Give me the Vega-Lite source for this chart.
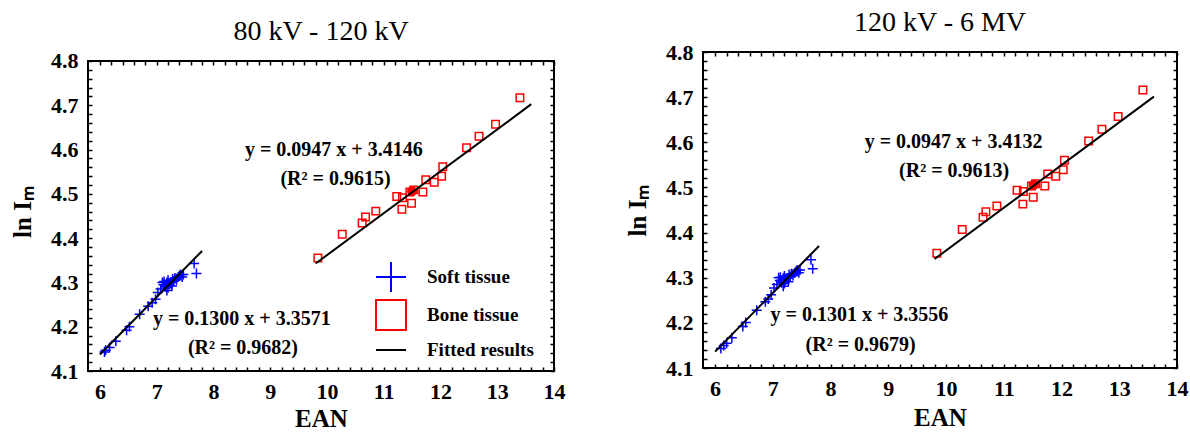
{
  "$schema": "https://vega.github.io/schema/vega-lite/v6.json",
  "padding": {"left": 10, "top": 8, "right": 0, "bottom": 0},
  "background": "white",
  "datasets": {
    "soft1": [
      {"EAN": 6.08, "lnIm": 4.143}, {"EAN": 6.10, "lnIm": 4.147}, {"EAN": 6.17, "lnIm": 4.153},
      {"EAN": 6.28, "lnIm": 4.167}, {"EAN": 6.47, "lnIm": 4.192}, {"EAN": 6.52, "lnIm": 4.200},
      {"EAN": 6.70, "lnIm": 4.228}, {"EAN": 6.85, "lnIm": 4.246}, {"EAN": 6.92, "lnIm": 4.254},
      {"EAN": 6.98, "lnIm": 4.262}, {"EAN": 7.02, "lnIm": 4.277}, {"EAN": 7.07, "lnIm": 4.285},
      {"EAN": 7.10, "lnIm": 4.300}, {"EAN": 7.12, "lnIm": 4.295}, {"EAN": 7.15, "lnIm": 4.290},
      {"EAN": 7.18, "lnIm": 4.282}, {"EAN": 7.18, "lnIm": 4.300}, {"EAN": 7.20, "lnIm": 4.305},
      {"EAN": 7.22, "lnIm": 4.296}, {"EAN": 7.25, "lnIm": 4.300}, {"EAN": 7.27, "lnIm": 4.292},
      {"EAN": 7.28, "lnIm": 4.308}, {"EAN": 7.30, "lnIm": 4.303}, {"EAN": 7.32, "lnIm": 4.310},
      {"EAN": 7.35, "lnIm": 4.306}, {"EAN": 7.38, "lnIm": 4.312}, {"EAN": 7.40, "lnIm": 4.315},
      {"EAN": 7.42, "lnIm": 4.318}, {"EAN": 7.45, "lnIm": 4.312}, {"EAN": 7.20, "lnIm": 4.288},
      {"EAN": 7.13, "lnIm": 4.302}, {"EAN": 7.47, "lnIm": 4.318}, {"EAN": 7.66, "lnIm": 4.343},
      {"EAN": 7.70, "lnIm": 4.320}
    ],
    "bone1": [
      {"EAN": 9.84, "lnIm": 4.355}, {"EAN": 10.27, "lnIm": 4.409}, {"EAN": 10.62, "lnIm": 4.434},
      {"EAN": 10.68, "lnIm": 4.448}, {"EAN": 10.86, "lnIm": 4.461}, {"EAN": 11.23, "lnIm": 4.494},
      {"EAN": 11.33, "lnIm": 4.491}, {"EAN": 11.32, "lnIm": 4.465}, {"EAN": 11.49, "lnIm": 4.479},
      {"EAN": 11.46, "lnIm": 4.504}, {"EAN": 11.53, "lnIm": 4.509}, {"EAN": 11.69, "lnIm": 4.504},
      {"EAN": 11.74, "lnIm": 4.532}, {"EAN": 11.89, "lnIm": 4.526}, {"EAN": 12.02, "lnIm": 4.540},
      {"EAN": 12.04, "lnIm": 4.561}, {"EAN": 12.46, "lnIm": 4.604}, {"EAN": 12.68, "lnIm": 4.630},
      {"EAN": 12.97, "lnIm": 4.657}, {"EAN": 13.40, "lnIm": 4.717}
    ],
    "mean1": [{"EAN": 11.50, "lnIm": 4.506}],
    "fit1": [
      {"EAN": 6.0, "lnIm": 4.1371, "group": "soft"}, {"EAN": 7.8, "lnIm": 4.3711, "group": "soft"},
      {"EAN": 9.8, "lnIm": 4.3427, "group": "bone"}, {"EAN": 13.6, "lnIm": 4.7025, "group": "bone"}
    ],
    "frame1": [{"x1": 5.79, "x2": 14, "y1": 4.1, "y2": 4.8}],
    "ann1": [
      {"EAN": 10.12, "lnIm": 4.598, "label": "y = 0.0947 x + 3.4146"},
      {"EAN": 10.15, "lnIm": 4.533, "label": "(R² = 0.9615)"},
      {"EAN": 8.50, "lnIm": 4.217, "label": "y = 0.1300 x + 3.3571"},
      {"EAN": 8.52, "lnIm": 4.151, "label": "(R² = 0.9682)"}
    ],
    "soft2": [
      {"EAN": 6.10, "lnIm": 4.143}, {"EAN": 6.15, "lnIm": 4.150}, {"EAN": 6.20, "lnIm": 4.155},
      {"EAN": 6.29, "lnIm": 4.167}, {"EAN": 6.48, "lnIm": 4.192}, {"EAN": 6.53, "lnIm": 4.201},
      {"EAN": 6.72, "lnIm": 4.228}, {"EAN": 6.87, "lnIm": 4.247}, {"EAN": 6.92, "lnIm": 4.253},
      {"EAN": 6.97, "lnIm": 4.262}, {"EAN": 7.02, "lnIm": 4.277}, {"EAN": 7.07, "lnIm": 4.285},
      {"EAN": 7.10, "lnIm": 4.300}, {"EAN": 7.12, "lnIm": 4.294}, {"EAN": 7.15, "lnIm": 4.289},
      {"EAN": 7.18, "lnIm": 4.281}, {"EAN": 7.18, "lnIm": 4.299}, {"EAN": 7.20, "lnIm": 4.304},
      {"EAN": 7.22, "lnIm": 4.295}, {"EAN": 7.25, "lnIm": 4.299}, {"EAN": 7.27, "lnIm": 4.291},
      {"EAN": 7.28, "lnIm": 4.307}, {"EAN": 7.30, "lnIm": 4.302}, {"EAN": 7.32, "lnIm": 4.309},
      {"EAN": 7.35, "lnIm": 4.305}, {"EAN": 7.38, "lnIm": 4.311}, {"EAN": 7.40, "lnIm": 4.314},
      {"EAN": 7.42, "lnIm": 4.317}, {"EAN": 7.45, "lnIm": 4.311}, {"EAN": 7.20, "lnIm": 4.287},
      {"EAN": 7.13, "lnIm": 4.301}, {"EAN": 7.47, "lnIm": 4.317}, {"EAN": 7.66, "lnIm": 4.340},
      {"EAN": 7.69, "lnIm": 4.320}
    ],
    "bone2": [
      {"EAN": 9.84, "lnIm": 4.354}, {"EAN": 10.28, "lnIm": 4.407}, {"EAN": 10.64, "lnIm": 4.434},
      {"EAN": 10.69, "lnIm": 4.446}, {"EAN": 10.88, "lnIm": 4.459}, {"EAN": 11.23, "lnIm": 4.494},
      {"EAN": 11.34, "lnIm": 4.491}, {"EAN": 11.33, "lnIm": 4.463}, {"EAN": 11.51, "lnIm": 4.478},
      {"EAN": 11.48, "lnIm": 4.503}, {"EAN": 11.55, "lnIm": 4.508}, {"EAN": 11.71, "lnIm": 4.503},
      {"EAN": 11.76, "lnIm": 4.530}, {"EAN": 11.90, "lnIm": 4.525}, {"EAN": 12.03, "lnIm": 4.539},
      {"EAN": 12.05, "lnIm": 4.560}, {"EAN": 12.47, "lnIm": 4.603}, {"EAN": 12.70, "lnIm": 4.629},
      {"EAN": 12.98, "lnIm": 4.657}, {"EAN": 13.41, "lnIm": 4.716}
    ],
    "mean2": [{"EAN": 11.52, "lnIm": 4.506}],
    "fit2": [
      {"EAN": 6.0, "lnIm": 4.1362, "group": "soft"}, {"EAN": 7.8, "lnIm": 4.3704, "group": "soft"},
      {"EAN": 9.8, "lnIm": 4.3413, "group": "bone"}, {"EAN": 13.6, "lnIm": 4.7011, "group": "bone"}
    ],
    "ann2": [
      {"EAN": 10.13, "lnIm": 4.600, "label": "y = 0.0947 x + 3.4132"},
      {"EAN": 10.14, "lnIm": 4.537, "label": "(R² = 0.9613)"},
      {"EAN": 8.50, "lnIm": 4.218, "label": "y = 0.1301 x + 3.3556"},
      {"EAN": 8.52, "lnIm": 4.152, "label": "(R² = 0.9679)"}
    ]
  },
  "hconcat": [
    {
      "width": 466,
      "height": 319,
      "view": {"stroke": null},
      "title": "80 kV - 120 kV",
      "resolve": {"axis": {"x": "independent", "y": "independent"}},
      "layer": [
        {
          "data": {"name": "soft1"},
          "transform": [{"calculate": "'Soft tissue'", "as": "type"}],
          "mark": {"type": "point", "filled": false, "strokeWidth": 1.5, "opacity": 1, "size": 100},
          "encoding": {
            "x": {"field": "EAN", "type": "quantitative", "scale": {"domain": [5.79, 14], "nice": false, "zero": false},
              "axis": {"orient": "bottom", "title": "EAN", "labelPadding": 14, "titlePadding": 4, "values": [6,6.2,6.4,6.6,6.8,7,7.2,7.4,7.6,7.8,8,8.2,8.4,8.6,8.8,9,9.2,9.4,9.6,9.8,10,10.2,10.4,10.6,10.8,11,11.2,11.4,11.6,11.8,12,12.2,12.4,12.6,12.8,13,13.2,13.4,13.6,13.8,14],
                "labelExpr": "abs(datum.value - round(datum.value)) < 1e-6 ? format(datum.value, 'd') : ''"}},
            "y": {"field": "lnIm", "type": "quantitative", "scale": {"domain": [4.1, 4.82032], "nice": false, "zero": false},
              "axis": {"orient": "left", "title": "ln Iₘ", "titlePadding": 15, "values": [4.1,4.12,4.14,4.16,4.18,4.2,4.22,4.24,4.26,4.28,4.3,4.32,4.34,4.36,4.38,4.4,4.42,4.44,4.46,4.48,4.5,4.52,4.54,4.56,4.58,4.6,4.62,4.64,4.66,4.68,4.7,4.72,4.74,4.76,4.78,4.8],
                "labelExpr": "abs(datum.value*10 - round(datum.value*10)) < 1e-6 ? format(datum.value, '.1f') : ''"}},
            "color": {"field": "type", "type": "nominal",
              "scale": {"domain": ["Soft tissue", "Bone tissue", "Fitted results"], "range": ["#0000ff", "#ff0000", "#000000"]},
              "legend": {"orient": "none", "legendX": 287, "legendY": 209, "title": null, "padding": 0, "rowPadding": 0,
                "labelFont": "Liberation Serif", "labelFontWeight": "bold", "labelFontSize": 19, "labelColor": "black",
                "labelOffset": 20, "symbolStrokeWidth": 2, "symbolSize": 900,
                "encode": {"symbols": {"size": {"signal": "datum.value === 'Fitted results' ? 1150 : (datum.value === 'Soft tissue' ? 81 : 49)"}}}}},
            "shape": {"field": "type", "type": "nominal",
              "scale": {"domain": ["Soft tissue", "Bone tissue", "Fitted results"], "range": ["M-1,0H1M0,-1V1", "square", "stroke"]},
              "legend": {"orient": "none", "legendX": 287, "legendY": 209, "title": null, "padding": 0, "rowPadding": 0,
                "labelFont": "Liberation Serif", "labelFontWeight": "bold", "labelFontSize": 19, "labelColor": "black",
                "labelOffset": 20, "symbolStrokeWidth": 2, "symbolSize": 900,
                "encode": {"symbols": {"size": {"signal": "datum.value === 'Fitted results' ? 1150 : (datum.value === 'Soft tissue' ? 81 : 49)"}}}}}
          }
        },
        {
          "data": {"name": "bone1"},
          "transform": [{"calculate": "'Bone tissue'", "as": "type"}],
          "mark": {"type": "point", "filled": false, "strokeWidth": 1.5, "opacity": 1, "size": 56},
          "encoding": {
            "x": {"field": "EAN", "type": "quantitative", "axis": null},
            "y": {"field": "lnIm", "type": "quantitative", "axis": null},
            "color": {"field": "type", "type": "nominal"},
            "shape": {"field": "type", "type": "nominal"}
          }
        },
        {
          "data": {"name": "mean1"},
          "mark": {"type": "circle", "color": "#ff0000", "size": 100, "opacity": 1},
          "encoding": {
            "x": {"field": "EAN", "type": "quantitative", "axis": null},
            "y": {"field": "lnIm", "type": "quantitative", "axis": null}
          }
        },
        {
          "data": {"name": "ann1"},
          "mark": {"type": "text", "font": "Liberation Serif", "fontWeight": "bold", "fontSize": 20, "color": "black", "align": "center", "baseline": "middle"},
          "encoding": {
            "x": {"field": "EAN", "type": "quantitative", "axis": null},
            "y": {"field": "lnIm", "type": "quantitative", "axis": null},
            "text": {"field": "label"}
          }
        },
        {
          "data": {"name": "frame1"},
          "mark": {"type": "rect", "fillOpacity": 0, "stroke": "black", "strokeWidth": 2},
          "encoding": {
            "x": {"field": "x1", "type": "quantitative", "axis": null},
            "x2": {"field": "x2"},
            "y": {"field": "y1", "type": "quantitative", "axis": null},
            "y2": {"field": "y2"}
          }
        },
        {
          "data": {"name": "fit1"},
          "transform": [{"calculate": "'Fitted results'", "as": "type"}],
          "mark": {"type": "line", "strokeWidth": 2},
          "encoding": {
            "x": {"field": "EAN", "type": "quantitative",
              "axis": {"orient": "top", "title": null, "labels": false, "offset": -9, "values": [6,6.2,6.4,6.6,6.8,7,7.2,7.4,7.6,7.8,8,8.2,8.4,8.6,8.8,9,9.2,9.4,9.6,9.8,10,10.2,10.4,10.6,10.8,11,11.2,11.4,11.6,11.8,12,12.2,12.4,12.6,12.8,13,13.2,13.4,13.6,13.8,14]}},
            "y": {"field": "lnIm", "type": "quantitative",
              "axis": {"orient": "right", "title": null, "labels": false, "values": [4.1,4.12,4.14,4.16,4.18,4.2,4.22,4.24,4.26,4.28,4.3,4.32,4.34,4.36,4.38,4.4,4.42,4.44,4.46,4.48,4.5,4.52,4.54,4.56,4.58,4.6,4.62,4.64,4.66,4.68,4.7,4.72,4.74,4.76,4.78,4.8]}},
            "color": {"field": "type", "type": "nominal"},
            "detail": {"field": "group"}
          }
        }
      ]
    },
    {
      "width": 474,
      "height": 316,
      "title": "120 kV - 6 MV",
      "resolve": {"axis": {"x": "independent", "y": "independent"}},
      "layer": [
        {
          "data": {"name": "soft2"},
          "mark": {"type": "point", "filled": false, "strokeWidth": 1.5, "opacity": 1, "color": "#0000ff", "shape": "M-1,0H1M0,-1V1", "size": 100},
          "encoding": {
            "x": {"field": "EAN", "type": "quantitative", "scale": {"domain": [5.79, 14], "nice": false, "zero": false},
              "axis": {"orient": "bottom", "title": "EAN", "labelPadding": 14, "titlePadding": 6, "values": [6,6.2,6.4,6.6,6.8,7,7.2,7.4,7.6,7.8,8,8.2,8.4,8.6,8.8,9,9.2,9.4,9.6,9.8,10,10.2,10.4,10.6,10.8,11,11.2,11.4,11.6,11.8,12,12.2,12.4,12.6,12.8,13,13.2,13.4,13.6,13.8,14],
                "labelExpr": "abs(datum.value - round(datum.value)) < 1e-6 ? format(datum.value, 'd') : ''"}},
            "y": {"field": "lnIm", "type": "quantitative", "scale": {"domain": [4.1, 4.8], "nice": false, "zero": false},
              "axis": {"orient": "left", "title": "ln Iₘ", "titlePadding": 15, "values": [4.1,4.12,4.14,4.16,4.18,4.2,4.22,4.24,4.26,4.28,4.3,4.32,4.34,4.36,4.38,4.4,4.42,4.44,4.46,4.48,4.5,4.52,4.54,4.56,4.58,4.6,4.62,4.64,4.66,4.68,4.7,4.72,4.74,4.76,4.78,4.8],
                "labelExpr": "abs(datum.value*10 - round(datum.value*10)) < 1e-6 ? format(datum.value, '.1f') : ''"}}
          }
        },
        {
          "data": {"name": "bone2"},
          "mark": {"type": "point", "filled": false, "strokeWidth": 1.5, "opacity": 1, "color": "#ff0000", "shape": "square", "size": 56},
          "encoding": {
            "x": {"field": "EAN", "type": "quantitative", "axis": null},
            "y": {"field": "lnIm", "type": "quantitative", "axis": null}
          }
        },
        {
          "data": {"name": "mean2"},
          "mark": {"type": "circle", "color": "#ff0000", "size": 100, "opacity": 1},
          "encoding": {
            "x": {"field": "EAN", "type": "quantitative", "axis": null},
            "y": {"field": "lnIm", "type": "quantitative", "axis": null}
          }
        },
        {
          "data": {"name": "ann2"},
          "mark": {"type": "text", "font": "Liberation Serif", "fontWeight": "bold", "fontSize": 20, "color": "black", "align": "center", "baseline": "middle"},
          "encoding": {
            "x": {"field": "EAN", "type": "quantitative", "axis": null},
            "y": {"field": "lnIm", "type": "quantitative", "axis": null},
            "text": {"field": "label"}
          }
        },
        {
          "data": {"name": "fit2"},
          "mark": {"type": "line", "strokeWidth": 2, "color": "black"},
          "encoding": {
            "x": {"field": "EAN", "type": "quantitative",
              "axis": {"orient": "top", "title": null, "labels": false, "values": [6,6.2,6.4,6.6,6.8,7,7.2,7.4,7.6,7.8,8,8.2,8.4,8.6,8.8,9,9.2,9.4,9.6,9.8,10,10.2,10.4,10.6,10.8,11,11.2,11.4,11.6,11.8,12,12.2,12.4,12.6,12.8,13,13.2,13.4,13.6,13.8,14]}},
            "y": {"field": "lnIm", "type": "quantitative",
              "axis": {"orient": "right", "title": null, "labels": false, "values": [4.1,4.12,4.14,4.16,4.18,4.2,4.22,4.24,4.26,4.28,4.3,4.32,4.34,4.36,4.38,4.4,4.42,4.44,4.46,4.48,4.5,4.52,4.54,4.56,4.58,4.6,4.62,4.64,4.66,4.68,4.7,4.72,4.74,4.76,4.78,4.8]}},
            "detail": {"field": "group"}
          }
        }
      ]
    }
  ],
  "spacing": 59,
  "resolve": {
    "scale": {"color": "independent", "shape": "independent"},
    "legend": {"color": "independent", "shape": "independent"}
  },
  "config": {
    "view": {"stroke": "black", "strokeWidth": 2},
    "title": {"font": "Liberation Serif", "fontSize": 28, "fontWeight": "normal", "color": "black", "offset": 4},
    "axis": {
      "domain": false, "grid": false,
      "tickColor": "black", "tickWidth": 1.5, "tickSize": -4,
      "labelFont": "Liberation Serif", "labelFontWeight": "bold", "labelFontSize": 22, "labelColor": "black",
      "labelPadding": 14, "labelOverlap": false, "labelFlush": false,
      "titleFont": "Liberation Serif", "titleFontWeight": "bold", "titleFontSize": 25, "titleColor": "black",
      "titlePadding": 10
    }
  }
}
